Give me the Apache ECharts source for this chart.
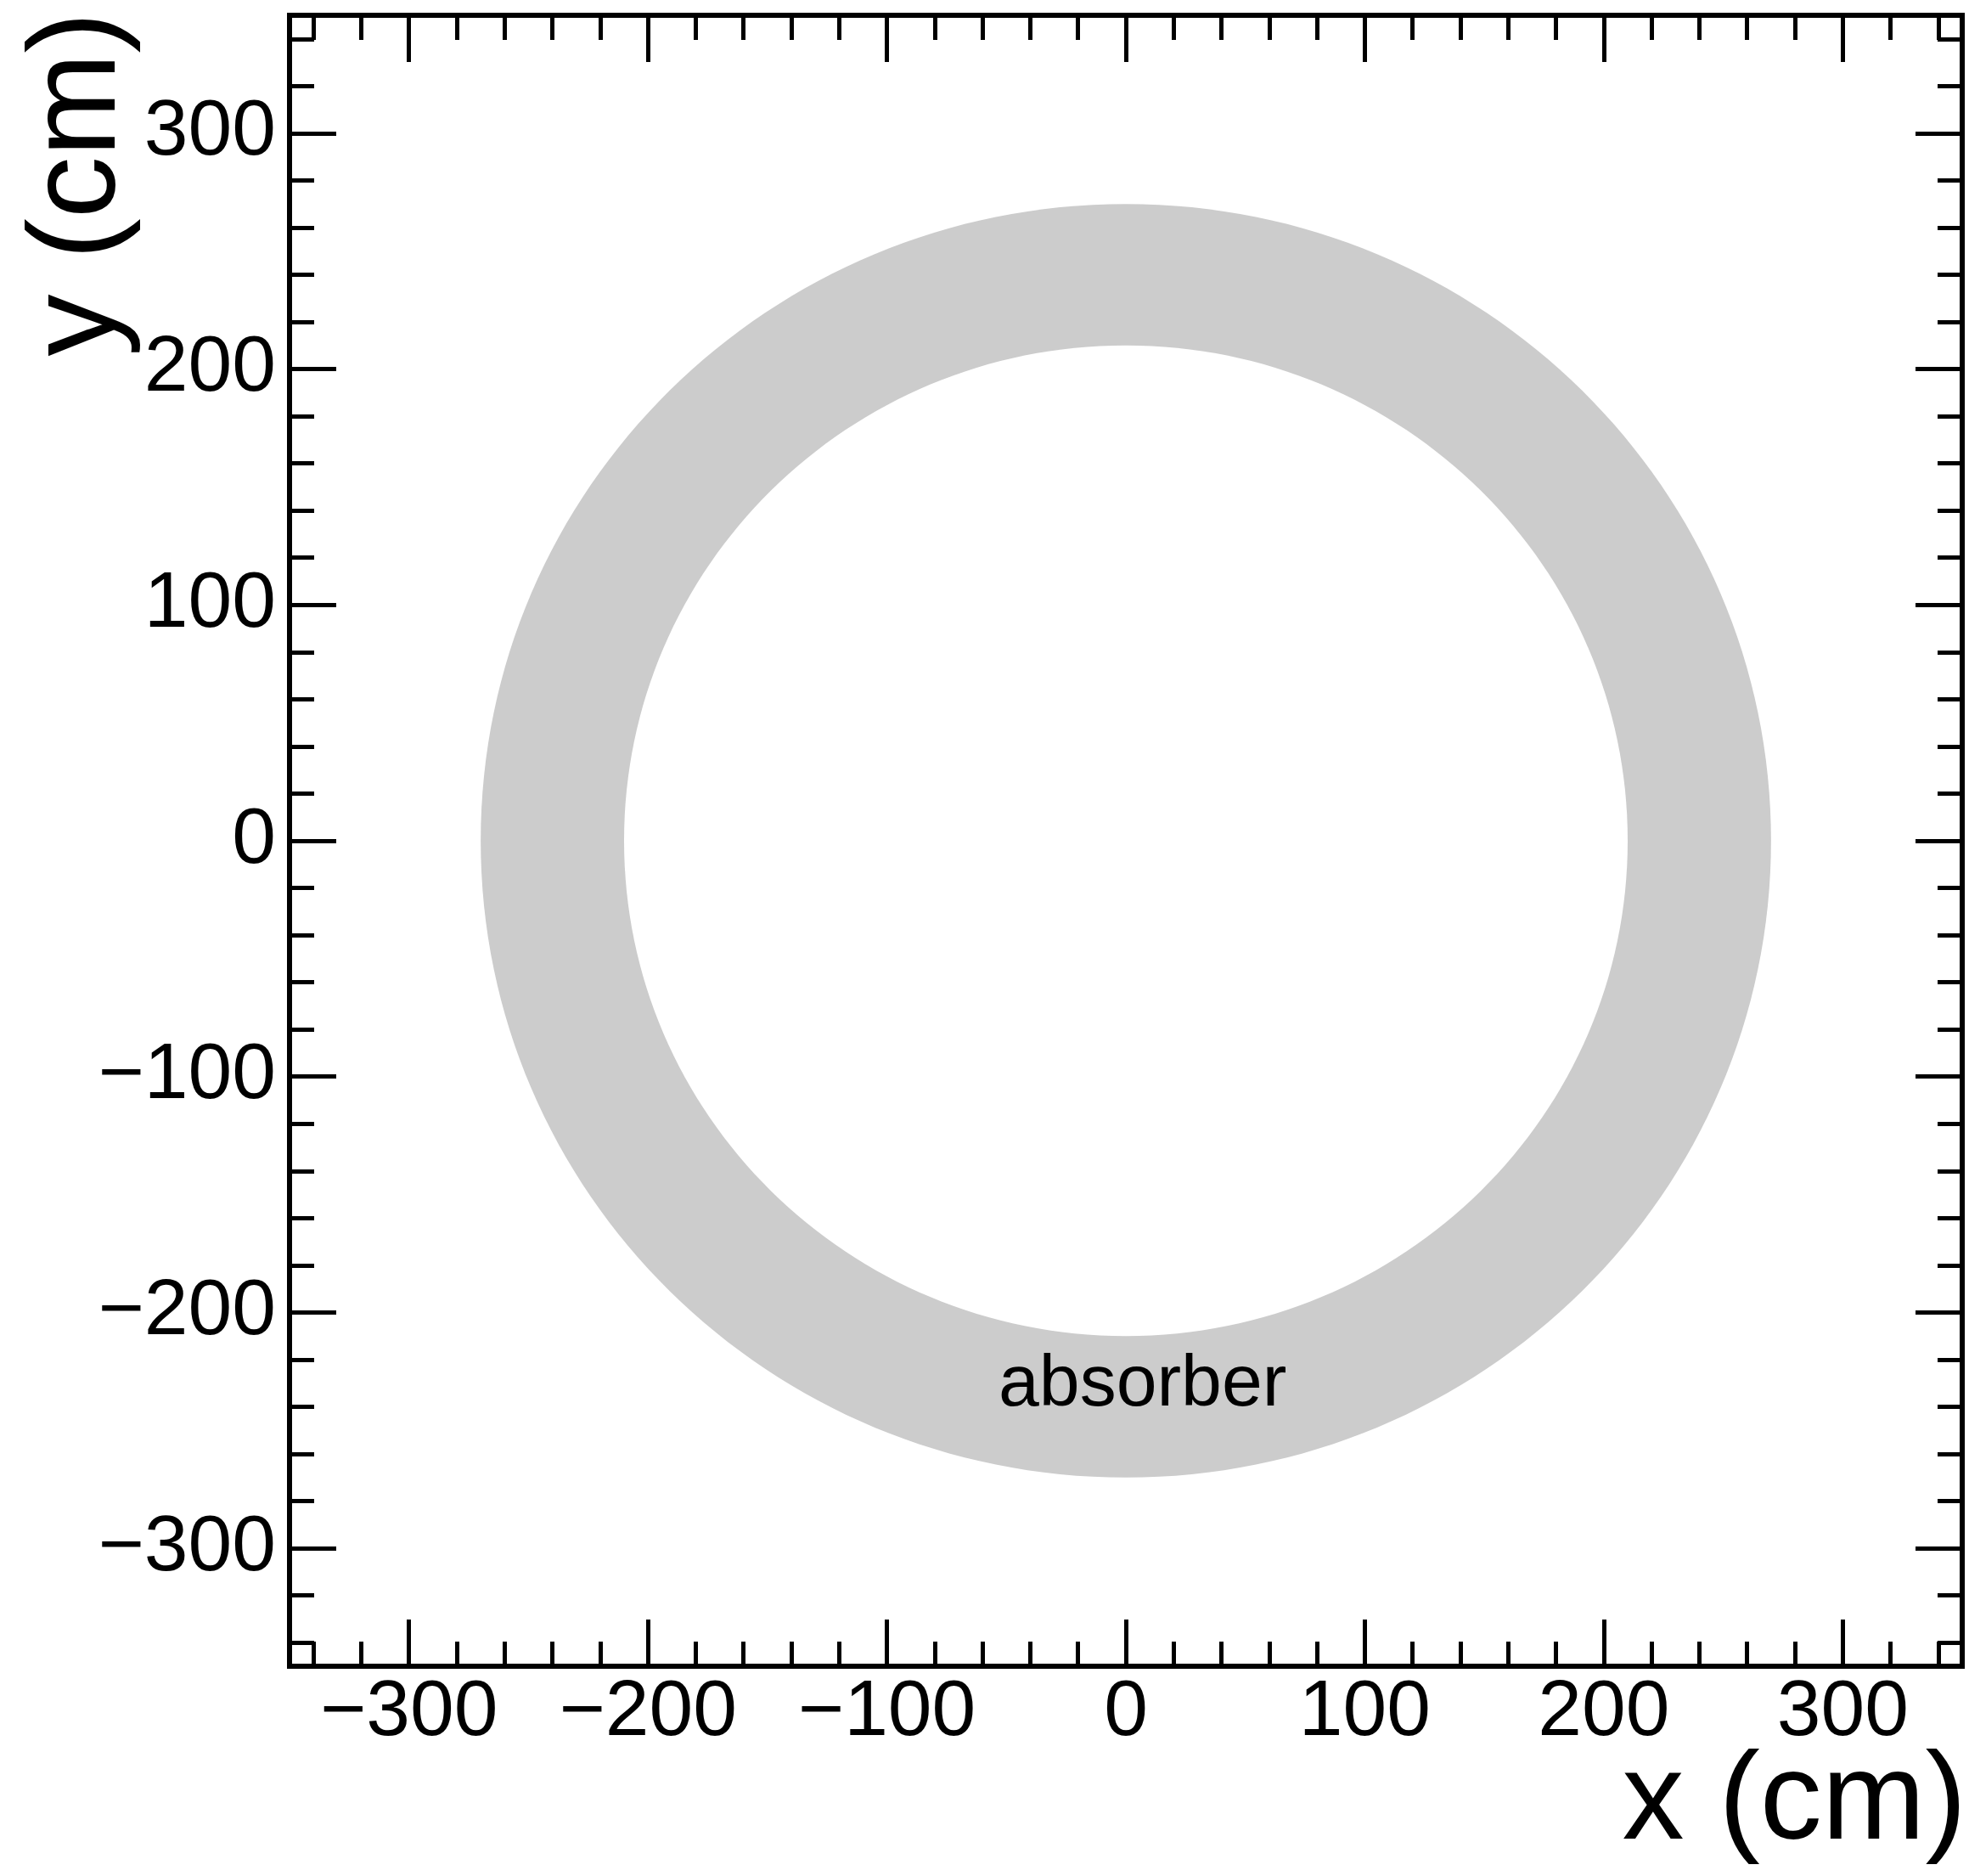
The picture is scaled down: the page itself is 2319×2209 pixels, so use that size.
<!DOCTYPE html>
<html>
<head>
<meta charset="utf-8">
<script src="https://cdn.jsdelivr.net/npm/echarts@6/dist/echarts.min.js"></script>
<style>
  html, body { margin: 0; padding: 0; background: #fff; }
  #chart { width: 2319px; height: 2209px; }
</style>
</head>
<body>
<div id="chart"></div>
<script>
// Axis extents and tick positions (cm)
const axisRange = [-350, 350];
const majorTicks = [-300, -200, -100, 0, 100, 200, 300];
const minorTicks = [-340, -320, -280, -260, -240, -220, -180, -160, -140, -120,
  -80, -60, -40, -20, 20, 40, 60, 80, 120, 140, 160, 180, 220, 240, 260, 280, 320, 340];

// Detector layer: centre (cm), inner and outer radius (cm), name
const layerNames = ['absorber'];
const layerCenterX = [0];
const layerCenterY = [0];
const layerInnerR = [210];
const layerOuterR = [270];
const layerLabelX = [7];
const layerLabelY = [-231];

const FONT = '"Liberation Sans", Arial, Helvetica, sans-serif';
const fmt = v => (v < 0 ? '\u2212' + Math.abs(v) : String(v));

function makeAxis(kind, position, ticks, len, withLabels) {
  return {
    type: 'value',
    position: position,
    min: axisRange[0],
    max: axisRange[1],
    axisLine: { show: false, onZero: false },
    splitLine: { show: false },
    axisTick: {
      show: true,
      inside: true,
      length: len,
      customValues: ticks,
      lineStyle: { color: '#000', width: 5, cap: 'butt' }
    },
    axisLabel: withLabels ? {
      show: true,
      customValues: ticks,
      formatter: fmt,
      color: '#000',
      fontFamily: FONT,
      fontSize: 93,
      margin: kind === 'x' ? 9 : 16,
      showMinLabel: true,
      showMaxLabel: true
    } : { show: false }
  };
}

const chart = echarts.init(document.getElementById('chart'), null, { renderer: 'canvas' });

const layerData = layerNames.map((n, i) => [
  layerCenterX[i], layerCenterY[i], layerInnerR[i], layerOuterR[i], layerLabelX[i], layerLabelY[i]
]);

chart.setOption({
  backgroundColor: '#fff',
  animation: false,
  grid: {
    left: 341, top: 18, right: 8, bottom: 247,
    show: true,
    borderColor: '#000',
    borderWidth: 6,
    backgroundColor: 'transparent'
  },
  xAxis: [
    makeAxis('x', 'bottom', majorTicks, 55, true),
    makeAxis('x', 'bottom', minorTicks, 29, false),
    makeAxis('x', 'top', majorTicks, 55, false),
    makeAxis('x', 'top', minorTicks, 29, false)
  ],
  yAxis: [
    makeAxis('y', 'left', majorTicks, 55, true),
    makeAxis('y', 'left', minorTicks, 29, false),
    makeAxis('y', 'right', majorTicks, 55, false),
    makeAxis('y', 'right', minorTicks, 29, false)
  ],
  series: [{
    type: 'custom',
    xAxisIndex: 0,
    yAxisIndex: 0,
    clip: true,
    data: layerData,
    renderItem: function (params, api) {
      const c = api.coord([api.value(0), api.value(1)]);
      const outer = api.size([api.value(3), api.value(3)]);
      const inner = api.size([api.value(2), api.value(2)]);
      const lp = api.coord([api.value(4), api.value(5)]);
      return {
        type: 'group',
        children: [
          { type: 'ellipse', shape: { cx: c[0], cy: c[1], rx: outer[0], ry: outer[1] },
            style: { fill: '#cccccc', stroke: null } },
          { type: 'ellipse', shape: { cx: c[0], cy: c[1], rx: inner[0], ry: inner[1] },
            style: { fill: '#ffffff', stroke: null } },
          { type: 'text', x: lp[0], y: lp[1],
            style: { text: layerNames[params.dataIndex], fill: '#000', font: '86px ' + FONT,
                     align: 'center', verticalAlign: 'middle' } }
        ]
      };
    }
  }],
  graphic: [
    { type: 'text', right: 3, top: 2052,
      style: { text: 'x (cm)', fill: '#000', font: '146px ' + FONT } },
    { type: 'text', x: 95, y: 14, rotation: Math.PI / 2,
      style: { text: 'y (cm)', fill: '#000', font: '146px ' + FONT,
               align: 'right', verticalAlign: 'middle' } }
  ]
});
</script>
</body>
</html>
